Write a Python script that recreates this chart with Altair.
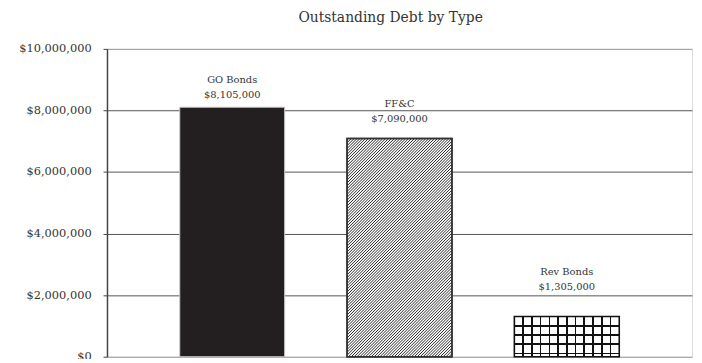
import altair as alt
import pandas as pd

# ---- data ----
categories = ["GO Bonds", "FF&C", "Rev Bonds"]
values = [8105000, 7090000, 1305000]
y_ticks = [0, 2000000, 4000000, 6000000, 8000000, 10000000]

# ---- layout / style ----
FONT = "DejaVu Serif"
W, H = 591, 311
Y_MAX = 10000000
P_INNER, P_OUTER = 0.373, 0.435          # Excel-like gap around the columns
HALF = (1 - P_INNER) / 2                  # half column width, in category units
X0 = 1 - P_OUTER - HALF
X1 = X0 + len(categories) - P_INNER + 2 * P_OUTER
PX_PER_X = W / (X1 - X0)
PX_PER_Y = H / Y_MAX

df = pd.DataFrame({"type": categories, "value": values,
                   "pos": list(range(1, len(categories) + 1))})
df["left"] = df["pos"] - HALF
df["right"] = df["pos"] + HALF
df["base"] = 0


def hard_stops(intervals, on, off):
    stops = [{"offset": 0.0, "color": off}]
    for s, e in intervals:
        s, e = max(0.0, s), min(1.0, e)
        if e <= s:
            continue
        stops += [{"offset": s, "color": off}, {"offset": s, "color": on},
                  {"offset": e, "color": on}, {"offset": e, "color": off}]
    stops.append({"offset": 1.0, "color": off})
    return stops


# ---- "/" hatch for FF&C: 45-degree lines clipped to the column, built from its value ----
ff_row = df[df["type"] == "FF&C"].iloc[0]
w_px = 2 * HALF * PX_PER_X
h_px = float(ff_row["value"]) * PX_PER_Y
period = 2.9
rows = []
s = period / 2
while s < w_px + h_px:
    xa = max(0.0, s - h_px); ya = s - xa
    xb = min(w_px, s); yb = s - xb
    rows.append({"hx": float(ff_row["left"]) + xa / PX_PER_X,
                 "hy": float(ff_row["value"]) - ya / PX_PER_Y,
                 "hx2": float(ff_row["left"]) + xb / PX_PER_X,
                 "hy2": float(ff_row["value"]) - yb / PX_PER_Y})
    s += period
hatch = pd.DataFrame(rows)

# ---- grid pattern for Rev Bonds (vertical + horizontal line gradients) ----
rev_row = df[df["type"] == "Rev Bonds"].iloc[0]
ncol = 12
lw = 1.6 / w_px
vert = [(k / ncol - lw / 2, k / ncol + lw / 2) for k in range(1, ncol)]
grad_rev_v = {"gradient": "linear", "x1": 0, "y1": 0, "x2": 1, "y2": 0,
              "stops": hard_stops(vert, "#111111", "#ffffff")}
h_rev = float(rev_row["value"]) * PX_PER_Y
row_px = 9.3
lh = 1.6 / h_rev
horiz = []
k = 1
while k * row_px < h_rev - 1:
    t = k * row_px / h_rev
    horiz.append((t - lh / 2, t + lh / 2))
    k += 1
grad_rev_h = {"gradient": "linear", "x1": 0, "y1": 0, "x2": 0, "y2": 1,
              "stops": hard_stops(horiz, "#111111", "rgba(255,255,255,0)")}

label_dy = {"GO Bonds": -24, "FF&C": -32, "Rev Bonds": -42}

x_scale = alt.Scale(domain=[X0, X1], nice=False, zero=False)
y_scale = alt.Scale(domain=[0, Y_MAX], nice=False)
y_axis = alt.Axis(values=y_ticks, format="$,.0f", title=None, grid=True,
                  gridColor={"condition": {"test": "datum.value === 0 || datum.value === 10000000",
                                           "value": "#9a9a9a"},
                             "value": "#555555"},
                  gridWidth=1,
                  domainColor="#444444", domainWidth=1.5,
                  tickColor="#444444", tickSize=4, tickWidth=1,
                  labelPadding=12, labelFont=FONT, labelFontSize=11.5,
                  labelColor="#333333")


def X(field):
    return alt.X(field, scale=x_scale, axis=None)


def Y(field):
    return alt.Y(field, scale=y_scale, axis=y_axis)


bars_base = alt.Chart(df).encode(x=X("left:Q"), x2="right:Q", y=Y("value:Q"), y2="base:Q")

go = bars_base.mark_rect(fill="#231f20", stroke="#c8c8c8", strokeWidth=1).transform_filter(
    alt.datum.type == "GO Bonds")
ff = bars_base.mark_rect(fill="#ffffff", stroke="#333333", strokeWidth=1.5).transform_filter(
    alt.datum.type == "FF&C")
rv = bars_base.mark_rect(fill=grad_rev_v, stroke="#111111", strokeWidth=1.6).transform_filter(
    alt.datum.type == "Rev Bonds")
rvh = bars_base.mark_rect(fill=grad_rev_h, strokeWidth=0).transform_filter(
    alt.datum.type == "Rev Bonds")

hatch_layer = alt.Chart(hatch).mark_rule(color="#1a1a1a", strokeWidth=0.95).encode(
    x=X("hx:Q"), y=Y("hy:Q"), x2="hx2:Q", y2="hy2:Q",
)
ff_outline = bars_base.mark_rect(fillOpacity=0, stroke="#333333", strokeWidth=1.5).transform_filter(
    alt.datum.type == "FF&C")

texts = []
for cat in categories:
    texts.append(
        alt.Chart(df).mark_text(font=FONT, fontSize=10, color="#333333", baseline="alphabetic",
                                lineBreak="\n", lineHeight=15, dy=label_dy[cat])
        .encode(x=X("pos:Q"), y=Y("value:Q"), text="label:N")
        .transform_filter(alt.datum.type == cat)
        .transform_calculate(label="datum.type + '\\n' + format(datum.value, '$,')")
    )

chart = alt.layer(go, ff, hatch_layer, ff_outline, rv, rvh, *texts).properties(
    width=W, height=H,
    autosize=alt.AutoSizeParams(type="none"),
    padding={"left": 100, "top": 39.5, "right": 2, "bottom": 0},
    title=alt.TitleParams("Outstanding Debt by Type", font=FONT, fontSize=14,
                          fontWeight="normal", color="#333333", offset=18.5, dx=-9),
).configure_view(stroke="#8a8a8a", strokeWidth=1.5).configure(background="white")

chart.save("out.html", embed_options={"renderer": "svg", "actions": False})
